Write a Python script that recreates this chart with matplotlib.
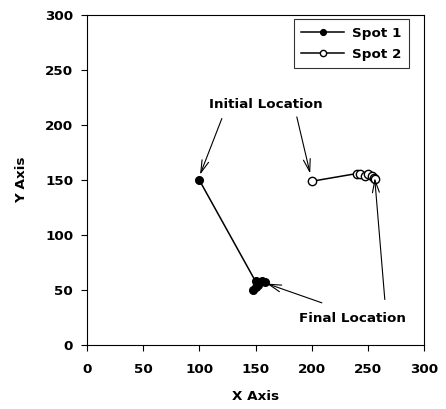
import matplotlib
matplotlib.use("Agg")
import matplotlib.pyplot as plt

plt.rcParams['font.family'] = ['DejaVu Sans']
plt.rcParams['font.weight'] = 'bold'

spot1_x = [100, 150, 148, 152, 156, 158, 150]
spot1_y = [150, 58, 50, 55, 58, 57, 53]
spot2_x = [200, 240, 243, 247.5, 250, 253.5, 255, 256]
spot2_y = [149, 156, 155.5, 153.5, 155.5, 153.6, 152, 151]
ticks = [0, 50, 100, 150, 200, 250, 300]

fig = plt.figure(figsize=(4.46, 4.09), dpi=100)
ax = fig.add_axes([0.195, 0.156, 0.756, 0.807])

ax.plot(spot1_x, spot1_y, color='black', lw=1.1, marker='o', ms=5.5,
        mfc='black', mec='black', label='Spot 1')
ax.plot(spot2_x, spot2_y, color='black', lw=1.1, marker='o', ms=6,
        mfc='white', mec='black', mew=1.0, label='Spot 2')

ax.set_xlim(0, 300)
ax.set_ylim(0, 300)
ax.set_xticks(ticks)
ax.set_yticks(ticks)
ax.tick_params(direction='out', length=4, width=0.8, labelsize=9.7)
ax.tick_params(axis='x', pad=9)
ax.tick_params(axis='y', pad=6)
for lab in ax.get_xticklabels() + ax.get_yticklabels():
    lab.set_fontweight('bold')
for s in ax.spines.values():
    s.set_linewidth(0.8)

ax.set_xlabel('X Axis', fontsize=9.7, fontweight='bold', labelpad=10)
ax.set_ylabel('Y Axis', fontsize=9.7, fontweight='bold', labelpad=12)

ap = dict(arrowstyle='->,head_length=0.9,head_width=0.25', color='black', lw=0.8,
          shrinkA=0, shrinkB=0)
ax.text(159, 219, 'Initial Location', ha='center', va='center', fontsize=9.7, fontweight='bold')
ax.annotate('', xy=(100.6, 155), xytext=(120, 206), arrowprops=ap)
ax.annotate('', xy=(198.6, 156), xytext=(186.7, 207.5), arrowprops=ap)

ax.text(236, 24, 'Final Location', ha='center', va='center', fontsize=9.7, fontweight='bold')
ax.annotate('', xy=(160, 56), xytext=(209, 38.5), arrowprops=ap)
ax.annotate('', xy=(256, 152), xytext=(265, 41.5), arrowprops=ap)

leg = ax.legend(loc='upper right', bbox_to_anchor=(0.955, 0.988), fontsize=9.7,
                frameon=True, fancybox=False, edgecolor='black', borderaxespad=0,
                handlelength=3.2, handletextpad=0.6, borderpad=0.55, labelspacing=0.6,
                markerscale=0.75)
leg.get_frame().set_linewidth(0.8)
for t in leg.get_texts():
    t.set_fontweight('bold')

fig.savefig('out.png', dpi=100)
